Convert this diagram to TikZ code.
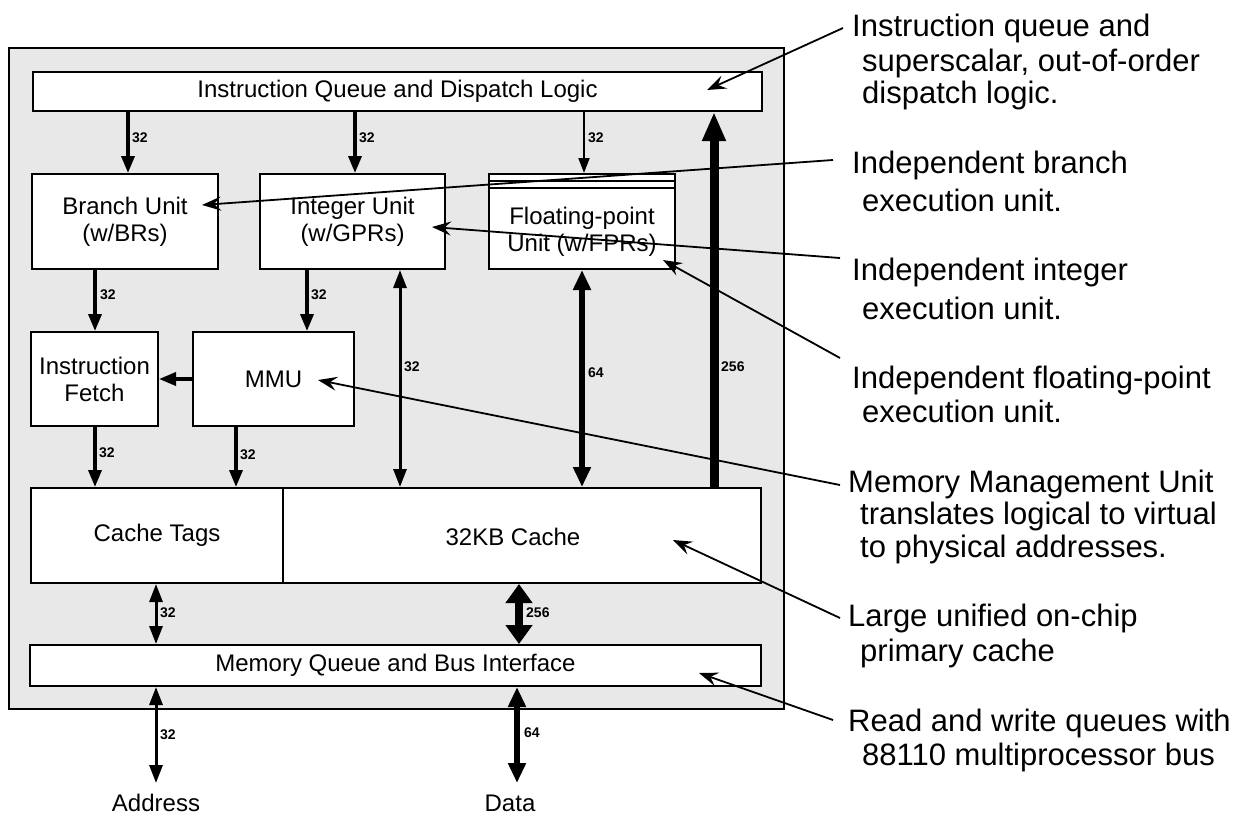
\documentclass[tikz,border=0pt]{standalone}
\usepackage{fontspec}
\setmainfont{Liberation Sans}
\usetikzlibrary{arrows.meta}
\begin{document}
\begin{tikzpicture}[x=1pt,y=-1pt,
  box/.style={draw,line width=2pt,fill=white,inner sep=0pt,font=\fontsize{24}{27}\selectfont,align=center},
  lbl/.style={font=\fontsize{24}{27}\selectfont,align=center,inner sep=0pt},
  bus/.style={line width=3.5pt,-{Triangle[length=17pt,width=13pt]}},
  thinbus/.style={line width=2pt,-{Triangle[length=15pt,width=11pt]}},
  dbus/.style={line width=3pt,{Triangle[length=18pt,width=13pt]}-{Triangle[length=18pt,width=13pt]}},
  fatbus/.style={line width=6pt,{Triangle[length=20pt,width=17pt]}-{Triangle[length=20pt,width=17pt]}},
  widebus/.style={line width=8.5pt,{Triangle[length=19pt,width=26pt]}-{Triangle[length=19pt,width=26pt]}},
  upbus/.style={line width=9pt,-{Triangle[length=29pt,width=22pt]}},
  bw/.style={font=\fontsize{14}{14}\selectfont\bfseries,anchor=west,inner sep=1pt},
  lead/.style={line width=1.8pt,-{Stealth[length=19pt,width=14pt,inset=7pt]}},
  note/.style={anchor=west,font=\fontsize{31}{33}\selectfont,inner sep=0pt}]
\useasboundingbox (0,0) rectangle (1247,828);
\fill[white] (0,0) rectangle (1247,828);
% chip outline
\node[draw,line width=2pt,fill=black!9,minimum width=775pt,minimum height=661pt,inner sep=0pt] (chip) at (396.5,378.5) {};
% blocks
\node[box,minimum width=729pt,minimum height=39pt] (iq) at (397.5,91.5) {Instruction Queue and Dispatch Logic};
\node[box,minimum width=186pt,minimum height=95pt] (bu) at (125,221.5) {Branch Unit\\(w/BRs)};
\node[box,minimum width=185pt,minimum height=95pt] (iu) at (352.5,221.5) {Integer Unit\\(w/GPRs)};
\node[box,minimum width=186pt,minimum height=95pt] (fp) at (582,221.5) {};
\draw[line width=1.5pt] ([yshift=-8pt]fp.north west) -- ([yshift=-8pt]fp.north east);
\draw[line width=1.5pt] ([yshift=-15pt]fp.north west) -- ([yshift=-15pt]fp.north east);
\node[lbl] (fptext) at ([yshift=-10pt]fp.center) {Floating-point\\Unit (w/FPRs)};
\node[box,minimum width=127pt,minimum height=94pt] (if) at (94.5,379) {Instruction\\Fetch};
\node[box,minimum width=161pt,minimum height=94pt] (mmu) at (273.5,379) {MMU};
\node[box,minimum width=252pt,minimum height=95pt] (ct) at (157,535.5) {Cache Tags};
\node[box,minimum width=478pt,minimum height=95pt] (ca) at (522,535.5) {};
\node[lbl] (catext) at (513,537) {32KB Cache};
\node[box,minimum width=731pt,minimum height=41pt] (mq) at (395.5,665.5) {Memory Queue and Bus Interface};
% external pins
\node[lbl] (addr) at (156,803) {Address};
\node[lbl] (data) at (510,803) {Data};
\coordinate (addrtip) at (156,783);
\coordinate (datatip) at (517,783);
% columns
\coordinate (c1) at (128,0);
\coordinate (c2) at (355,0);
\coordinate (c3) at (584,0);
\coordinate (c4) at (95,0);
\coordinate (c5) at (307,0);
\coordinate (c6) at (236,0);
\coordinate (c7) at (400,0);
\coordinate (c8) at (582,0);
\coordinate (c9) at (714,0);
\coordinate (c10) at (156,0);
\coordinate (c11) at (519,0);
% buses
\draw[bus] (iq.south -| c1) -- (bu.north -| c1);
\draw[bus] (iq.south -| c2) -- (iu.north -| c2);
\draw[thinbus] (iq.south -| c3) -- (fp.north -| c3);
\draw[bus] (bu.south -| c4) -- (if.north -| c4);
\draw[bus] (iu.south -| c5) -- (mmu.north -| c5);
\draw[bus] (mmu.west) -- (if.east);
\draw[bus] (if.south -| c4) -- (ct.north -| c4);
\draw[bus] (mmu.south -| c6) -- (ct.north -| c6);
\draw[dbus] (iu.south -| c7) -- (ca.north -| c7);
\draw[fatbus] (fp.south -| c8) -- (ca.north -| c8);
\draw[upbus] (ca.north -| c9) -- (iq.south -| c9);
\draw[dbus] (ct.south -| c10) -- (mq.north -| c10);
\draw[widebus] (ca.south -| c11) -- (mq.north -| c11);
\draw[dbus] (mq.south -| c10) -- (addrtip);
\draw[fatbus] (mq.south -| datatip) -- (datatip);
% bus widths
\node[bw] at (131,138) {32};
\node[bw] at (358,138) {32};
\node[bw] at (587,138) {32};
\node[bw] at (99,295) {32};
\node[bw] at (310,295) {32};
\node[bw] at (98,453) {32};
\node[bw] at (239,455) {32};
\node[bw] at (403,367) {32};
\node[bw] at (587,373) {64};
\node[bw] at (720,367) {256};
\node[bw] at (159,613) {32};
\node[bw] at (525,613) {256};
\node[bw] at (159,735) {32};
\node[bw] at (523,733) {64};
% notes
\node[note] (n1a) at (852,28) {Instruction queue and};
\node[note] (n1b) at (862,63) {superscalar, out-of-order};
\node[note] (n1c) at (862,95) {dispatch logic.};
\node[note] (n2a) at (852,165) {Independent branch};
\node[note] (n2b) at (862,200) {execution unit.};
\node[note] (n3a) at (852,272) {Independent integer};
\node[note] (n3b) at (862,308) {execution unit.};
\node[note] (n4a) at (852,380) {Independent floating-point};
\node[note] (n4b) at (862,411) {execution unit.};
\node[note] (n5a) at (848,484) {Memory Management Unit};
\node[note] (n5b) at (860,516) {translates logical to virtual};
\node[note] (n5c) at (860,549) {to physical addresses.};
\node[note] (n6a) at (848,618) {Large unified on-chip};
\node[note] (n6b) at (860,653) {primary cache};
\node[note] (n7a) at (848,723) {Read and write queues with};
\node[note] (n7b) at (862,757) {88110 multiprocessor bus};
% leader start points
\coordinate (s1) at (843,28);
\coordinate (s2) at (833,160);
\coordinate (s3) at (840,258);
\coordinate (s4) at (840,358);
\coordinate (s5) at (840,485);
\coordinate (s6) at (840,618);
\coordinate (s7) at (833,720);
% leader targets
\coordinate (t1) at (707,90);
\coordinate (t2) at (202,205);
\coordinate (t3) at (432,227);
\coordinate (t4) at (663,260);
\coordinate (t5) at (318,380);
\coordinate (t6) at (673,540);
\coordinate (t7) at (699,673);
\draw[lead] (s1) -- (t1);
\draw[lead] (s2) -- (t2);
\draw[lead] (s3) -- (t3);
\draw[lead] (s4) -- (t4);
\draw[lead] (s5) -- (t5);
\draw[lead] (s6) -- (t6);
\draw[lead] (s7) -- (t7);
\end{tikzpicture}
\end{document}
